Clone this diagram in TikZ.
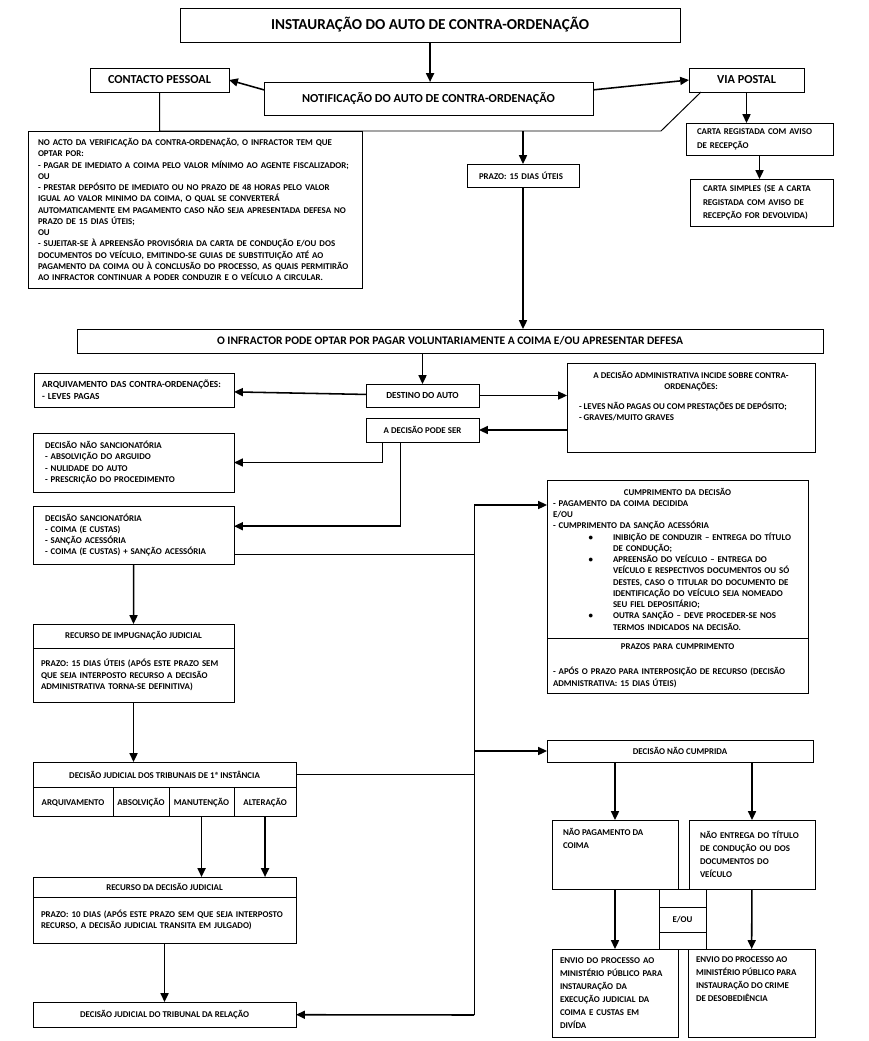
\documentclass[tikz,border=0pt]{standalone}
\usepackage{fontspec}
\setmainfont{Carlito}
\usetikzlibrary{arrows.meta, positioning}
\newcommand{\fpeq}{\fontsize{6.3}{8}\selectfont\bfseries}
\newcommand{\fesp}{\fontsize{6.3}{9.2}\selectfont\bfseries}
\newcommand{\fcarta}{\fontsize{6.3}{9.8}\selectfont\bfseries}
\newcommand{\fmed}{\fontsize{6.6}{8.5}\selectfont\bfseries}
\newcommand{\flar}{\fontsize{8.2}{10}\selectfont\bfseries}
\newcommand{\fgra}{\fontsize{8.7}{10}\selectfont\bfseries}
\newcommand{\ftit}{\fontsize{10.8}{13}\selectfont\bfseries}
\newcommand{\topo}[3]{\parbox[t][#2][t]{#1}{\raggedright #3}}
\newcommand{\marca}[1]{\par{\leftskip=1.5cm\leavevmode\llap{\textbullet\hspace{0.5cm}}#1\par}}

\begin{document}
\begin{tikzpicture}[x=0.025cm, y=-0.025cm, node distance=0pt,
    caixa/.style={draw, line width=0.7pt, anchor=north west, inner sep=0pt, outer sep=0pt, font=\fpeq, align=center},
    texto/.style={align=left, text width=#1, inner xsep=0.3cm},
    celula/.style={caixa, minimum height=0.725cm, text height=1.5ex, text depth=0.3ex},
    seta/.style={-{Triangle[length=2.2mm, width=2mm]}, line width=1.1pt},
    linha/.style={line width=0.7pt}]
    \useasboundingbox (0,0) rectangle (869,1041);

    \node[caixa, font=\ftit, minimum width=12.5cm, minimum height=0.85cm] (titulo) at (180,8) {INSTAURAÇÃO DO AUTO DE CONTRA-ORDENAÇÃO};
    \node[caixa, font=\fgra, minimum width=3.475cm, minimum height=0.6cm] (contacto) at (90,68) {CONTACTO PESSOAL};
    \node[caixa, font=\fgra, minimum width=8.225cm, minimum height=0.825cm] (notif) at (264,82) {NOTIFICAÇÃO DO AUTO DE CONTRA-ORDENAÇÃO};
    \node[caixa, font=\fgra, minimum width=2.875cm, minimum height=0.6cm] (viapostal) at (689,68) {VIA POSTAL};
    \node[caixa, texto=7.85cm, inner xsep=0.25cm, minimum height=3.925cm] (acto) at (28,131) {NO ACTO DA VERIFICAÇÃO DA CONTRA-ORDENAÇÃO, O INFRACTOR TEM QUE\\OPTAR POR:\\- PAGAR DE IMEDIATO A COIMA PELO VALOR MÍNIMO AO AGENTE FISCALIZADOR;\\OU\\- PRESTAR DEPÓSITO DE IMEDIATO OU NO PRAZO DE 48 HORAS PELO VALOR\\IGUAL AO VALOR MINIMO DA COIMA, O QUAL SE CONVERTERÁ\\AUTOMATICAMENTE EM PAGAMENTO CASO NÃO SEJA APRESENTADA DEFESA NO\\PRAZO DE 15 DIAS ÚTEIS;\\OU\\- SUJEITAR-SE À APREENSÃO PROVISÓRIA DA CARTA DE CONDUÇÃO E/OU DOS\\DOCUMENTOS DO VEÍCULO, EMITINDO-SE GUIAS DE SUBSTITUIÇÃO ATÉ AO\\PAGAMENTO DA COIMA OU À CONCLUSÃO DO PROCESSO, AS QUAIS PERMITIRÃO\\AO INFRACTOR CONTINUAR A PODER CONDUZIR E O VEÍCULO A CIRCULAR.};
    \node[caixa, texto=2.2cm, minimum height=0.575cm] (prazo) at (467,164) {PRAZO: 15 DIAS ÚTEIS};
    \node[caixa, font=\fcarta, texto=3.125cm, inner xsep=0.275cm, minimum height=0.8cm] (cartareg) at (686,123) {CARTA REGISTADA COM AVISO\\DE RECEPÇÃO};
    \node[caixa, font=\fcarta, texto=2.925cm, inner xsep=0.325cm, minimum height=1.175cm] (cartasimples) at (690,179) {CARTA SIMPLES (SE A CARTA\\REGISTADA COM AVISO DE\\RECEPÇÃO FOR DEVOLVIDA)};
    \node[caixa, font=\flar, minimum width=18.65cm, minimum height=0.6cm] (infractor) at (77,329) {O INFRACTOR PODE OPTAR POR PAGAR VOLUNTARIAMENTE A COIMA E/OU APRESENTAR DEFESA};
    \node[caixa, font=\fmed, texto=4.6cm, inner xsep=0.2cm, minimum height=0.85cm] (arquivamento) at (34,373) {ARQUIVAMENTO DAS CONTRA-ORDENAÇÕES:\\- LEVES PAGAS};
    \node[caixa, font=\fmed, minimum width=2.825cm, minimum height=0.575cm] (destino) at (366,384) {DESTINO DO AUTO};
    \node[caixa, inner xsep=0.3cm, inner ysep=0.2cm] (admin) at (567,363) {\topo{5.6cm}{1.825cm}{{\centering A DECISÃO ADMINISTRATIVA INCIDE SOBRE CONTRA-\\ORDENAÇÕES:\par}\vspace{6pt}- LEVES NÃO PAGAS OU COM PRESTAÇÕES DE DEPÓSITO;\\- GRAVES/MUITO GRAVES}};
    \node[caixa, minimum width=2.825cm, minimum height=0.6cm] (podeser) at (366,418) {A DECISÃO PODE SER};
    \node[caixa, texto=4.425cm, minimum height=1.475cm] (naosanc) at (33,433) {DECISÃO NÃO SANCIONATÓRIA\\- ABSOLVIÇÃO DO ARGUIDO\\- NULIDADE DO AUTO\\- PRESCRIÇÃO DO PROCEDIMENTO};
    \node[caixa, texto=4.425cm, minimum height=1.45cm] (sanc) at (33,506) {DECISÃO SANCIONATÓRIA\\- COIMA (E CUSTAS)\\- SANÇÃO ACESSÓRIA\\- COIMA (E CUSTAS) + SANÇÃO ACESSÓRIA};
    \node[caixa, minimum width=5.025cm, minimum height=0.6cm] (recimp) at (33,624) {RECURSO DE IMPUGNAÇÃO JUDICIAL};
    \node[caixa, texto=4.625cm, inner xsep=0.2cm, minimum height=1.35cm, below=of recimp] (recimpprazo) {PRAZO: 15 DIAS ÚTEIS (APÓS ESTE PRAZO SEM\\QUE SEJA INTERPOSTO RECURSO A DECISÃO\\ADMINISTRATIVA TORNA-SE DEFINITIVA)};
    \node[caixa, minimum width=6.575cm, minimum height=0.625cm] (insttitulo) at (33,762) {DECISÃO JUDICIAL DOS TRIBUNAIS DE 1ª INSTÂNCIA};
    \node[celula, minimum width=2cm, below=of insttitulo.south west, anchor=north west] (arquivado) {ARQUIVAMENTO};
    \node[celula, minimum width=1.4cm, right=of arquivado] (absolvicao) {ABSOLVIÇÃO};
    \node[celula, minimum width=1.625cm, right=of absolvicao] (manutencao) {MANUTENÇÃO};
    \node[celula, minimum width=1.55cm, right=of manutencao] (alteracao) {ALTERAÇÃO};
    \node[caixa, minimum width=6.575cm, minimum height=0.5cm] (recdec) at (33,877) {RECURSO DA DECISÃO JUDICIAL};
    \node[caixa, texto=6.175cm, inner xsep=0.2cm, minimum height=1.15cm, below=of recdec] (recdecprazo) {PRAZO: 10 DIAS (APÓS ESTE PRAZO SEM QUE SEJA INTERPOSTO\\RECURSO, A DECISÃO JUDICIAL TRANSITA EM JULGADO)};
    \node[caixa, minimum width=6.575cm, minimum height=0.625cm] (tribunal) at (33,1002) {DECISÃO JUDICIAL DO TRIBUNAL DA RELAÇÃO};
    \node[caixa, texto=6.225cm, inner xsep=0.15cm, minimum height=3.95cm] (cumprimento) at (547,480) {{\centering CUMPRIMENTO DA DECISÃO\par}- PAGAMENTO DA COIMA DECIDIDA\\E/OU\\- CUMPRIMENTO DA SANÇÃO ACESSÓRIA
        \marca{INIBIÇÃO DE CONDUZIR – ENTREGA DO TÍTULO\\DE CONDUÇÃO;}
        \marca{APREENSÃO DO VEÍCULO – ENTREGA DO\\VEÍCULO E RESPECTIVOS DOCUMENTOS OU SÓ\\DESTES, CASO O TITULAR DO DOCUMENTO DE\\IDENTIFICAÇÃO DO VEÍCULO SEJA NOMEADO\\SEU FIEL DEPOSITÁRIO;}
        \marca{OUTRA SANÇÃO – DEVE PROCEDER-SE NOS\\TERMOS INDICADOS NA DECISÃO.}};
    \node[caixa, texto=6.225cm, inner xsep=0.15cm, minimum height=1.375cm, below=of cumprimento] (cumprimentoprazo) {{\centering PRAZOS PARA CUMPRIMENTO\par}\vspace{10pt}- APÓS O PRAZO PARA INTERPOSIÇÃO DE RECURSO (DECISÃO\\ADMNISTRATIVA: 15 DIAS ÚTEIS)};
    \node[caixa, minimum width=6.65cm, minimum height=0.55cm] (naocumprida) at (547,740) {DECISÃO NÃO CUMPRIDA};
    \node[caixa, font=\fesp, inner xsep=0.275cm, inner ysep=0.2cm] (naopag) at (552,820) {\topo{2.6cm}{1.325cm}{NÃO PAGAMENTO DA\\COIMA}};
    \node[caixa, font=\fesp, texto=2.6cm, inner xsep=0.275cm, minimum height=1.725cm] (naoentrega) at (689,820) {NÃO ENTREGA DO TÍTULO\\DE CONDUÇÃO OU DOS\\DOCUMENTOS DO\\VEÍCULO};
    \node[caixa, minimum width=1.175cm, minimum height=0.45cm] (eoutopo) at (659,889) {};
    \node[caixa, minimum width=1.175cm, minimum height=0.625cm, below=of eoutopo] (eou) {E/OU};
    \node[caixa, minimum width=1.175cm, minimum height=0.425cm, below=of eou] (eoubase) {};
    \node[caixa, font=\fesp, texto=2.75cm, inner xsep=0.2cm, minimum height=2.2cm] (envio1) at (552,949) {ENVIO DO PROCESSO AO\\MINISTÉRIO PÚBLICO PARA\\INSTAURAÇÃO DA\\EXECUÇÃO JUDICIAL DA\\COIMA E CUSTAS EM\\DIVÍDA};
    \node[caixa, font=\fesp, inner xsep=0.2cm, inner ysep=0.2cm] (envio2) at (688,949) {\topo{2.775cm}{1.8cm}{ENVIO DO PROCESSO AO\\MINISTÉRIO PÚBLICO PARA\\INSTAURAÇÃO DO CRIME\\DE DESOBEDIÊNCIA}};

    \coordinate (juncao) at (661,131);
    \coordinate (t1) at (474,505);
    \coordinate (t2) at (474,1015);

    \draw[seta] (titulo) -- (titulo |- notif.north);
    \draw[seta] (notif.177) -- (contacto.east);
    \draw[seta] (notif.3) -- (viapostal.west);
    \draw[linha] (contacto.south) |- (juncao) -- ([xshift=0.3cm]viapostal.south west);
    \draw[seta] (prazo |- juncao) -- (prazo);
    \draw[seta] (viapostal) -- (viapostal |- cartareg.north);
    \draw[seta] (cartareg) -- (cartareg |- cartasimples.north);
    \draw[seta] (prazo) -- (prazo |- infractor.north);
    \draw[seta] (destino |- infractor.south) -- (destino);
    \draw[seta] (destino) -- (arquivamento);
    \draw[seta] (destino.east) -- (destino.east -| admin.west);
    \draw[seta] (admin.west |- podeser) -- (podeser);
    \draw[seta] (podeser.south) ++(-40,0) |- (naosanc.east);
    \draw[seta] (podeser.south) ++(-22,0) |- (sanc.5);
    \draw[linha] (sanc.-11) -- (sanc.-11 -| t1);
    \draw[linha] (insttitulo.east) -- (insttitulo.east -| t1);
    \draw[linha] (t1) -- (t2);
    \draw[seta] (t1) -- (t1 -| cumprimento.west);
    \draw[seta] (t1 |- naocumprida) -- (naocumprida);
    \draw[seta] (t2) -- (tribunal);
    \draw[seta] (sanc) -- (recimp);
    \draw[seta] (recimpprazo) -- (recimpprazo |- insttitulo.north);
    \draw[seta] (manutencao) -- (manutencao |- recdec.north);
    \draw[seta] (alteracao) -- (alteracao |- recdec.north);
    \draw[seta] (recdecprazo) -- (tribunal);
    \draw[seta] (naopag |- naocumprida.south) -- (naopag);
    \draw[seta] (naoentrega |- naocumprida.south) -- (naoentrega);
    \draw[seta] (naopag) -- (envio1);
    \draw[seta] (naoentrega) -- (envio2);
\end{tikzpicture}
\end{document}
